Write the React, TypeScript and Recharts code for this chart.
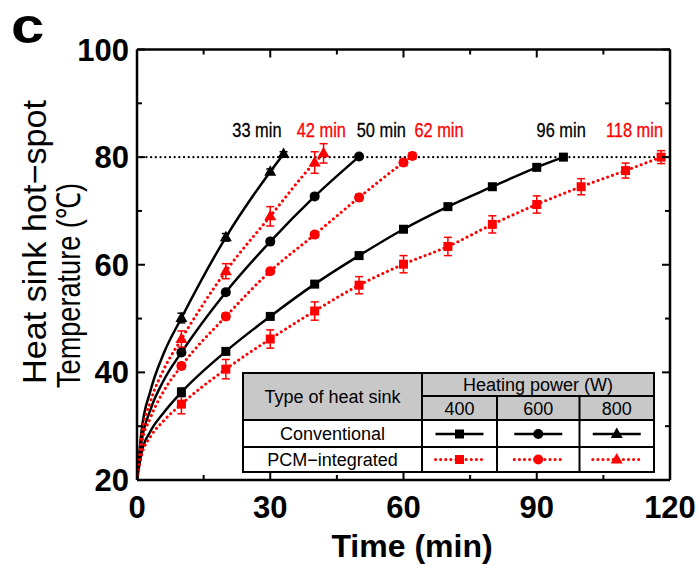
import React from "react";
import {
  ComposedChart,
  Line,
  Scatter,
  ErrorBar,
  XAxis,
  YAxis,
  ReferenceLine,
  ReferenceDot,
} from "recharts";

const BLACK = "#000000";
const RED = "#ff0000";
const FONT = "Arial, 'Liberation Sans', Helvetica, sans-serif";

const xTicks = [0, 15, 30, 45, 60, 75, 90, 105, 120];
const yTicks = [20, 30, 40, 50, 60, 70, 80, 90, 100];
const limitTemp = 80;

// fitted curve near the start (no markers there)
const earlyTimes = [0, 1, 3, 6];

const conv400Times = [10, 20, 30, 40, 50, 60, 70, 80, 90, 96];
const conv400Temps = [36.3, 43.9, 50.4, 56.4, 61.7, 66.6, 70.8, 74.5, 78.1, 80.0];
const conv400Err = [0.8, 0.5, 0.5, 0.5, 0.4, 0.4, 0.4, 0.4, 0.4, 0.3];
const conv400Early = [20, 25, 29, 32.5];

const pcm400Times = [10, 20, 30, 40, 50, 60, 70, 80, 90, 100, 110, 118];
const pcm400Temps = [34.1, 40.6, 46.2, 51.4, 56.2, 60.1, 63.4, 67.5, 71.2, 74.5, 77.5, 80.0];
const pcm400Err = [1.8, 1.8, 1.7, 1.7, 1.6, 1.6, 1.7, 1.6, 1.6, 1.5, 1.4, 1.2];
const pcm400Early = [20, 24.5, 28, 31];

const conv600Times = [10, 20, 30, 40, 50];
const conv600Temps = [43.7, 54.9, 64.3, 72.7, 80.1];
const conv600Err = [0.5, 0.5, 0.5, 0.4, 0.3];
const conv600Early = [20, 27, 33, 38.5];

const pcm600Times = [10, 20, 30, 40, 50, 60, 62];
const pcm600Temps = [41.2, 50.4, 58.8, 65.6, 72.5, 79.0, 80.2];
const pcm600Err = [0.6, 0.6, 0.5, 0.5, 0.6, 0.6, 0.6];
const pcm600Early = [20, 26.5, 31.5, 36.5];

const conv800Times = [10, 20, 30, 33];
const conv800Temps = [50.1, 65.1, 77.3, 80.6];
const conv800Err = [0.9, 0.7, 0.5, 0.4];
const conv800Early = [20, 29, 36.5, 43.5];

const pcm800Times = [10, 20, 30, 40, 42];
const pcm800Temps = [46.2, 58.8, 69.0, 79.0, 80.7];
const pcm800Err = [1.5, 1.4, 1.8, 2.0, 1.8];
const pcm800Early = [20, 28, 34.5, 40.5];

const noteTimes = [27, 41.5, 55, 68, 95.5, 112];
const noteLabels = ["33 min", "42 min", "50 min", "62 min", "96 min", "118 min"];
const noteColors = [BLACK, RED, BLACK, RED, BLACK, RED];
const noteTemp = 85;

const series = [
  { key: "c400", color: BLACK, dotted: false, marker: "square", times: conv400Times, temps: conv400Temps, errs: conv400Err, early: conv400Early },
  { key: "p400", color: RED, dotted: true, marker: "square", times: pcm400Times, temps: pcm400Temps, errs: pcm400Err, early: pcm400Early },
  { key: "c600", color: BLACK, dotted: false, marker: "circle", times: conv600Times, temps: conv600Temps, errs: conv600Err, early: conv600Early },
  { key: "p600", color: RED, dotted: true, marker: "circle", times: pcm600Times, temps: pcm600Temps, errs: pcm600Err, early: pcm600Early },
  { key: "c800", color: BLACK, dotted: false, marker: "triangle", times: conv800Times, temps: conv800Temps, errs: conv800Err, early: conv800Early },
  { key: "p800", color: RED, dotted: true, marker: "triangle", times: pcm800Times, temps: pcm800Temps, errs: pcm800Err, early: pcm800Early },
];

function Marker({ kind, cx, cy, color }: { kind: string; cx: number; cy: number; color: string }) {
  if (kind === "square") return <rect x={cx - 4.5} y={cy - 4.5} width={9} height={9} fill={color} />;
  if (kind === "circle") return <circle cx={cx} cy={cy} r={5} fill={color} />;
  return <polygon points={`${cx},${cy - 6.5} ${cx - 6},${cy + 4} ${cx + 6},${cy + 4}`} fill={color} />;
}

const BottomTick = (p: any) => {
  const major = p.payload.value % 30 === 0;
  return (
    <g>
      <line x1={p.x} y1={p.y} x2={p.x} y2={p.y - (major ? 8 : 5)} stroke={BLACK} strokeWidth={2} />
      {major && (
        <text x={p.x} y={p.y + 38} textAnchor="middle" fontSize={31} fontWeight="bold" fontFamily={FONT} fill={BLACK}>
          {p.payload.value}
        </text>
      )}
    </g>
  );
};

const TopTick = (p: any) => {
  const major = p.payload.value % 30 === 0;
  return <line x1={p.x} y1={p.y} x2={p.x} y2={p.y + (major ? 8 : 5)} stroke={BLACK} strokeWidth={2} />;
};

const LeftTick = (p: any) => {
  const major = p.payload.value % 20 === 0;
  return (
    <g>
      <line x1={p.x} y1={p.y} x2={p.x + (major ? 8 : 5)} y2={p.y} stroke={BLACK} strokeWidth={2} />
      {major && (
        <text x={p.x - 8} y={p.y + 11} textAnchor="end" fontSize={31} fontWeight="bold" fontFamily={FONT} fill={BLACK}>
          {p.payload.value}
        </text>
      )}
    </g>
  );
};

const RightTick = (p: any) => {
  const major = p.payload.value % 20 === 0;
  return <line x1={p.x} y1={p.y} x2={p.x - (major ? 8 : 5)} y2={p.y} stroke={BLACK} strokeWidth={2} />;
};

const axisLine = { stroke: BLACK, strokeWidth: 2.5 };

function LegendSample({ cx, cy, color, dotted, kind }: any) {
  return (
    <g>
      <line
        x1={cx - 24}
        y1={cy}
        x2={cx + 24}
        y2={cy}
        stroke={color}
        strokeWidth={dotted ? 3 : 2.5}
        strokeDasharray={dotted ? "0.1 5" : undefined}
        strokeLinecap={dotted ? "round" : "butt"}
      />
      <Marker kind={kind} cx={cx} cy={cy} color={color} />
    </g>
  );
}

function LegendTable() {
  const L = 243, R = 654, T = 373, B = 472;
  const c1 = 422, c2 = 497, c3 = 579.5;
  const r1 = 396, r2 = 420, r3 = 447;
  const colCenters = [(c1 + c2) / 2, (c2 + c3) / 2, (c3 + R) / 2];
  const kinds = ["square", "circle", "triangle"];
  return (
    <svg width={699} height={565} style={{ position: "absolute", left: 0, top: 0, pointerEvents: "none" }}>
      <rect x={L} y={T} width={R - L} height={r2 - T} fill="#c8c8c8" />
      <rect x={L} y={r2} width={R - L} height={B - r2} fill="#ffffff" />
      <g stroke={BLACK} strokeWidth={2} fill="none">
        <rect x={L} y={T} width={R - L} height={B - T} />
        <line x1={c1} y1={r1} x2={R} y2={r1} />
        <line x1={L} y1={r2} x2={R} y2={r2} />
        <line x1={L} y1={r3} x2={R} y2={r3} />
        <line x1={c1} y1={T} x2={c1} y2={B} />
        <line x1={c2} y1={r1} x2={c2} y2={B} />
        <line x1={c3} y1={r1} x2={c3} y2={B} />
      </g>
      <g fontFamily={FONT} fontSize={18} fill={BLACK} textAnchor="middle">
        <text x={(L + c1) / 2} y={403}>Type of heat sink</text>
        <text x={(c1 + R) / 2} y={391}>Heating power (W)</text>
        <text x={colCenters[0]} y={415}>400</text>
        <text x={colCenters[1]} y={415}>600</text>
        <text x={colCenters[2]} y={415}>800</text>
        <text x={(L + c1) / 2} y={440}>Conventional</text>
        <text x={(L + c1) / 2} y={466}>PCM−integrated</text>
      </g>
      {colCenters.map((cx, i) => (
        <LegendSample key={"c" + i} cx={cx} cy={434} color={BLACK} dotted={false} kind={kinds[i]} />
      ))}
      {colCenters.map((cx, i) => (
        <LegendSample key={"p" + i} cx={cx} cy={459.5} color={RED} dotted kind={kinds[i]} />
      ))}
    </svg>
  );
}

export default function App() {
  return (
    <div style={{ position: "absolute", left: 0, top: 0, width: 699, height: 565, background: "#fff" }}>
      <ComposedChart width={699} height={565} margin={{ top: 48.5, right: 28, bottom: 0, left: 0 }}>
        <XAxis
          xAxisId="b"
          dataKey="t"
          type="number"
          domain={[0, 120]}
          ticks={xTicks}
          interval={0}
          height={85}
          tickSize={0}
          tickMargin={0}
          tick={BottomTick}
          axisLine={axisLine}
          tickLine={false}
          allowDataOverflow
        />
        <XAxis
          xAxisId="top"
          orientation="top"
          dataKey="t"
          type="number"
          domain={[0, 120]}
          ticks={xTicks}
          interval={0}
          height={1}
          tickSize={0}
          tickMargin={0}
          tick={TopTick}
          axisLine={axisLine}
          tickLine={false}
          allowDataOverflow
        />
        <YAxis
          yAxisId="l"
          dataKey="v"
          type="number"
          domain={[20, 100]}
          ticks={yTicks}
          interval={0}
          width={137}
          tickSize={0}
          tickMargin={0}
          tick={LeftTick}
          axisLine={axisLine}
          tickLine={false}
          allowDataOverflow
        />
        <YAxis
          yAxisId="r"
          orientation="right"
          dataKey="v"
          type="number"
          domain={[20, 100]}
          ticks={yTicks}
          interval={0}
          width={1}
          tickSize={0}
          tickMargin={0}
          tick={RightTick}
          axisLine={axisLine}
          tickLine={false}
          allowDataOverflow
        />
        <ReferenceLine
          xAxisId="b"
          yAxisId="l"
          y={limitTemp}
          stroke={BLACK}
          strokeWidth={2.2}
          strokeDasharray="0.1 4.6"
          strokeLinecap="round"
        />
        {series.map((s) => {
          const curve = [
            ...earlyTimes.map((t, i) => ({ t, v: s.early[i] })),
            ...s.times.map((t, i) => ({ t, v: s.temps[i] })),
          ];
          return (
            <Line
              key={"line-" + s.key}
              xAxisId="b"
              yAxisId="l"
              data={curve}
              dataKey="v"
              type="monotone"
              stroke={s.color}
              strokeWidth={s.dotted ? 3 : 2.5}
              strokeDasharray={s.dotted ? "0.1 5" : undefined}
              strokeLinecap={s.dotted ? "round" : "butt"}
              dot={false}
              activeDot={false}
              isAnimationActive={false}
            />
          );
        })}
        {series.map((s) => {
          const pts = s.times.map((t, i) => ({ t, v: s.temps[i], e: s.errs[i] }));
          return (
            <Scatter
              key={"pts-" + s.key}
              xAxisId="b"
              yAxisId="l"
              data={pts}
              dataKey="v"
              fill={s.color}
              isAnimationActive={false}
              shape={(p: any) => <Marker kind={s.marker} cx={p.cx} cy={p.cy} color={s.color} />}
            >
              <ErrorBar dataKey="e" direction="y" width={4} stroke={s.color} strokeWidth={1.5} isAnimationActive={false} />
            </Scatter>
          );
        })}
        {noteTimes.map((t, i) => (
          <ReferenceDot
            key={"note-" + i}
            xAxisId="b"
            yAxisId="l"
            x={t}
            y={noteTemp}
            r={1}
            shape={(p: any) => (
              <text
                transform={`translate(${p.cx},${p.cy + 7}) scale(0.82,1)`}
                textAnchor="middle"
                fontSize={20}
                fontFamily={FONT}
                fill={noteColors[i]}
                stroke={noteColors[i]}
                strokeWidth={0.3}
              >
                {noteLabels[i]}
              </text>
            )}
          />
        ))}
      </ComposedChart>
      <svg width={699} height={565} style={{ position: "absolute", left: 0, top: 0, pointerEvents: "none" }}>
        <text transform="translate(11,43) scale(1.2,1)" fontSize={50} fontWeight={900} fontFamily={FONT} fill={BLACK}>
          c
        </text>
        <g fontFamily={FONT} fontSize={33} fill={BLACK}>
          <text transform="translate(46,384) rotate(-90)" textLength={284} lengthAdjust="spacingAndGlyphs">
            Heat sink hot−spot
          </text>
          <text transform="translate(80,388) rotate(-90)" textLength={205} lengthAdjust="spacingAndGlyphs">
            Temperature (℃)
          </text>
        </g>
        <text x={412} y={557} textAnchor="middle" fontSize={32} fontWeight="bold" fontFamily={FONT} fill={BLACK}>
          Time (min)
        </text>
      </svg>
      <LegendTable />
    </div>
  );
}
